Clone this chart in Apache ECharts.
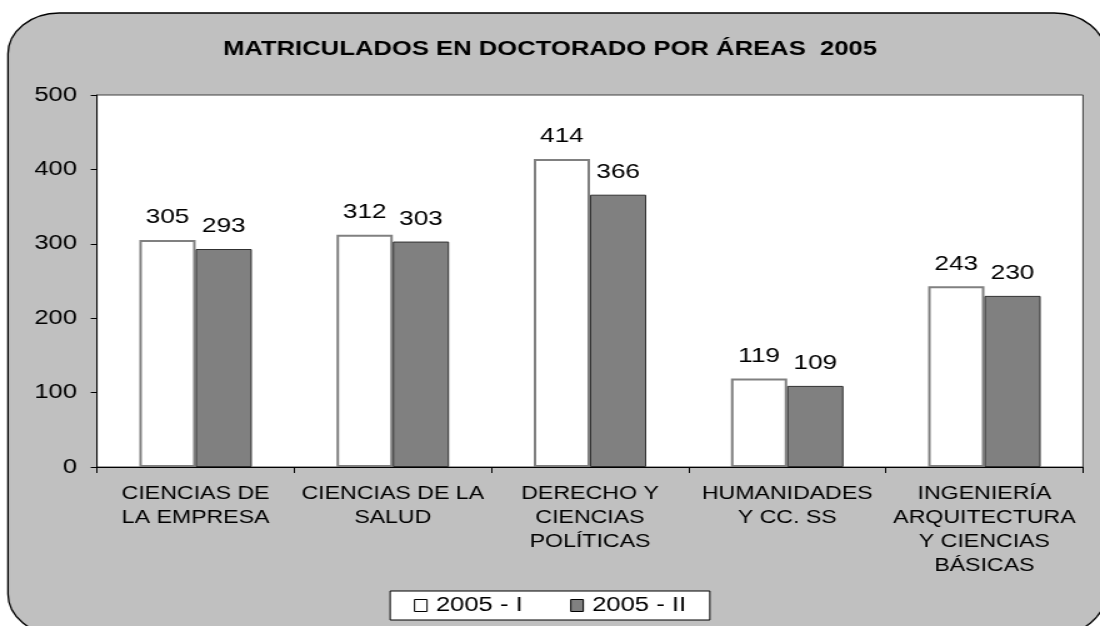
<!DOCTYPE html>
<html>
<head>
<meta charset="utf-8">
<script src="https://cdn.jsdelivr.net/npm/echarts@6/dist/echarts.min.js"></script>
<style>
  html, body { margin: 0; padding: 0; background: #ffffff; overflow: hidden; }
  /* the chart is laid out at 880px and widened to 1100px, giving the wide lettering */
  #chart { width: 880px; height: 626px; transform: scaleX(1.25); transform-origin: 0 0; }
</style>
</head>
<body>
<div id="chart"></div>
<script>
// Áreas de doctorado y matriculados por semestre
const categories = [
  'CIENCIAS DE\nLA EMPRESA',
  'CIENCIAS DE LA\nSALUD',
  'DERECHO Y\nCIENCIAS\nPOLÍTICAS',
  'HUMANIDADES\nY CC. SS',
  'INGENIERÍA\nARQUITECTURA\nY CIENCIAS\nBÁSICAS'
];
const semestre1 = [305, 312, 414, 119, 243];
const semestre2 = [293, 303, 366, 109, 230];
const yTicks = { min: 0, max: 500, interval: 100 };

const FONT = '"Liberation Sans", Arial, sans-serif';
const chart = echarts.init(document.getElementById('chart'), null, { renderer: 'canvas' });

const valueLabel = {
  show: true,
  position: 'top',
  distance: 12,
  fontFamily: FONT,
  fontSize: 21,
  color: '#000000'
};

chart.setOption({
  animation: false,
  backgroundColor: '#ffffff',
  graphic: [{
    type: 'rect',
    z: -10,
    silent: true,
    shape: { x: 6.4, y: 13, width: 878, height: 622, r: 41 },
    style: { fill: '#c0c0c0', stroke: '#000000', lineWidth: 1.3 }
  }],
  title: {
    text: 'MATRICULADOS EN DOCTORADO POR ÁREAS  2005',
    left: 'center',
    top: 34,
    textStyle: { fontFamily: FONT, fontSize: 20.5, fontWeight: 'bold', color: '#000000' }
  },
  legend: {
    bottom: 6,
    left: 'center',
    itemWidth: 10,
    itemHeight: 12,
    itemGap: 38,
    padding: [4, 19, 4, 19],
    backgroundColor: '#ffffff',
    borderColor: '#000000',
    borderWidth: 1,
    borderRadius: 0,
    textStyle: { fontFamily: FONT, fontSize: 20.5, color: '#000000', padding: [0, 0, 0, 2] },
    data: [
      { name: '2005 - I', icon: 'rect', itemStyle: { color: '#ffffff', borderColor: '#000000', borderWidth: 1 } },
      { name: '2005 - II', icon: 'rect', itemStyle: { color: '#808080', borderColor: '#000000', borderWidth: 1 } }
    ]
  },
  grid: {
    left: 77.6,
    right: 13.6,
    top: 95,
    bottom: 159,
    show: true,
    backgroundColor: '#ffffff',
    borderColor: '#404040',
    borderWidth: 1,
    containLabel: false
  },
  xAxis: {
    type: 'category',
    data: categories,
    axisLine: { lineStyle: { color: '#000000', width: 1 } },
    axisTick: { show: true, length: 6, lineStyle: { color: '#000000' } },
    axisLabel: {
      interval: 0,
      margin: 15,
      fontFamily: FONT,
      fontSize: 18.5,
      lineHeight: 24,
      color: '#000000',
      align: 'center'
    },
    splitLine: { show: false }
  },
  yAxis: {
    type: 'value',
    min: yTicks.min,
    max: yTicks.max,
    interval: yTicks.interval,
    axisLine: { show: true, lineStyle: { color: '#000000', width: 1 } },
    axisTick: { show: true, length: 5, lineStyle: { color: '#000000' } },
    axisLabel: { margin: 16, fontFamily: FONT, fontSize: 20.5, color: '#000000' },
    splitLine: { show: false }
  },
  series: [
    {
      name: '2005 - I',
      type: 'bar',
      data: semestre1,
      barWidth: 45,
      barGap: '0%',
      itemStyle: { color: '#ffffff', borderColor: '#808080', borderWidth: 2 },
      label: valueLabel
    },
    {
      name: '2005 - II',
      type: 'bar',
      data: semestre2,
      barWidth: 45,
      itemStyle: { color: '#808080', borderColor: '#303030', borderWidth: 1 },
      label: valueLabel
    }
  ]
});
</script>
</body>
</html>
